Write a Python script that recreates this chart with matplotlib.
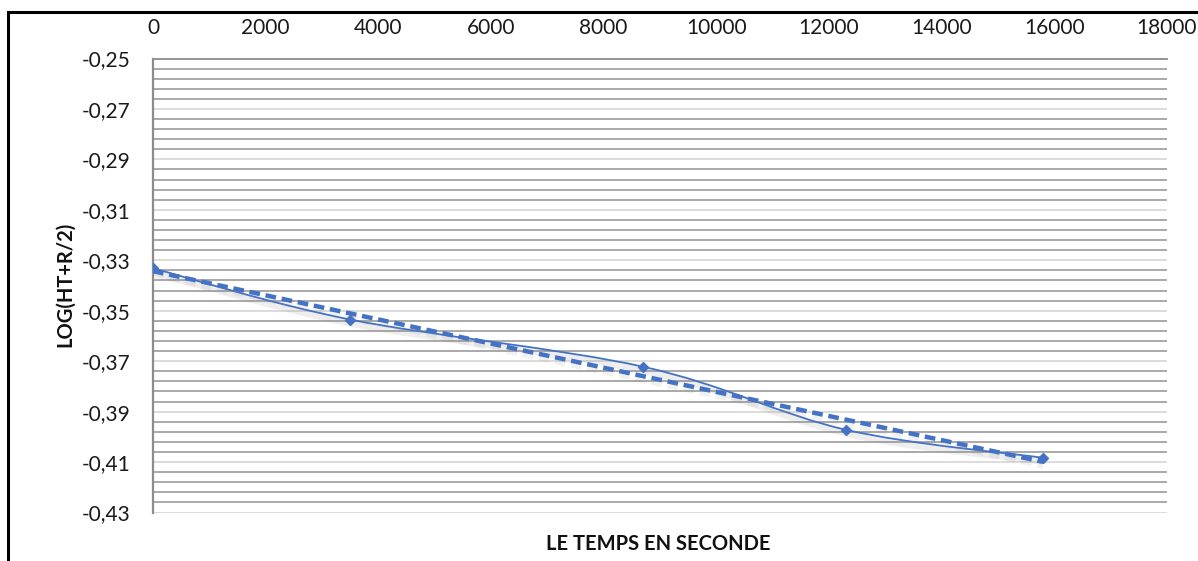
import numpy as np
import matplotlib
matplotlib.use('Agg')
import matplotlib.pyplot as plt
import matplotlib.patheffects as pe
from matplotlib.path import Path
from matplotlib.patches import PathPatch, Rectangle
from matplotlib.ticker import AutoMinorLocator, FuncFormatter

# data
TEMPS = [0, 3500, 8700, 12300, 15800]
LOG_H = [-0.3332, -0.3535, -0.3722, -0.3972, -0.4083]
XTICKS = [0, 2000, 4000, 6000, 8000, 10000, 12000, 14000, 16000, 18000]
YTICKS = [-0.43, -0.41, -0.39, -0.37, -0.35, -0.33, -0.31, -0.29, -0.27, -0.25]

BLUE = '#4472C4'
plt.rcParams['font.family'] = ['Lato', 'DejaVu Sans']


def smooth_path(xs, ys):
    """Excel-like smoothed line: Catmull-Rom segments as cubic Bezier."""
    p = np.column_stack([xs, ys]).astype(float)
    n = len(p)
    verts = [p[0]]
    codes = [Path.MOVETO]
    for i in range(n - 1):
        p0 = p[i - 1] if i > 0 else p[i]
        p3 = p[i + 2] if i + 2 < n else p[i + 1]
        c1 = p[i] + (p[i + 1] - p0) / 6.0
        c2 = p[i + 1] - (p3 - p[i]) / 6.0
        verts += [c1, c2, p[i + 1]]
        codes += [Path.CURVE4] * 3
    return Path(verts, codes)


fig = plt.figure(figsize=(11.98, 5.61), dpi=100)
ax = fig.add_axes([153 / 1198, 1 - 512.5 / 561, (1167 - 153) / 1198, (512.5 - 58.5) / 561])

# outer chart border (cut by the image on the right and bottom)
fig.patches.append(Rectangle((8 / 1198, -0.1), 1.2, 1.1 - 12 / 561,
                             transform=fig.transFigure, fill=False,
                             edgecolor='black', lw=2.2, zorder=0))

ax.set_xlim(0, 18000)
ax.set_ylim(-0.43, -0.25)
ax.set_xticks(XTICKS)
ax.set_yticks(YTICKS)
ax.yaxis.set_minor_locator(AutoMinorLocator(5))
ax.xaxis.tick_top()
ax.yaxis.set_major_formatter(FuncFormatter(lambda v, _: f'{v:.2f}'.replace('.', ',')))
ax.tick_params(axis='both', which='both', length=0, labelsize=15, colors='#1a1a1a')
ax.tick_params(axis='y', pad=16)
ax.tick_params(axis='x', pad=15)

ax.grid(True, axis='y', which='minor', color='#a9a9a9', lw=1.4)
ax.grid(True, axis='y', which='major', color='#dcdcdc', lw=1.4)
ax.set_axisbelow(True)
for s in ('right', 'bottom'):
    ax.spines[s].set_visible(False)
ax.spines['left'].set_color('#8c8c8c')
ax.spines['left'].set_linewidth(1.6)
ax.spines['top'].set_color('#8c8c8c')
ax.spines['top'].set_linewidth(1.3)

# smoothed measured curve with soft shadow
shadow = [pe.SimpleLineShadow(offset=(0, -2.5), shadow_color='#909090', alpha=0.15, linewidth=5),
          pe.Normal()]
curve = PathPatch(smooth_path(TEMPS, LOG_H), fill=False, edgecolor=BLUE, lw=1.3,
                  zorder=3, path_effects=shadow)
ax.add_patch(curve)
ax.plot(TEMPS, LOG_H, ls='none', marker='D', ms=5.5, color=BLUE, zorder=4)

# linear trend line
slope, icpt = np.polyfit(TEMPS, LOG_H, 1)
tx = np.array([TEMPS[0], TEMPS[-1]])
ax.plot(tx, slope * tx + icpt, color=BLUE, lw=3.2, dashes=(2.4, 1.3),
        dash_capstyle='butt', zorder=5,
        path_effects=[pe.SimpleLineShadow(offset=(0, -2.5), shadow_color='#909090',
                                          alpha=0.12, linewidth=5), pe.Normal()])

fig.text(65 / 1198, 1 - 284 / 561, 'LOG(HT+R/2)', rotation=90, ha='center', va='center',
         fontsize=14.5, fontweight='bold', color='#111111')
fig.text(658 / 1198, 1 - 544 / 561, 'LE TEMPS EN SECONDE', ha='center', va='center',
         fontsize=14.5, fontweight='bold', color='#111111')

fig.savefig('out.png', dpi=100)
